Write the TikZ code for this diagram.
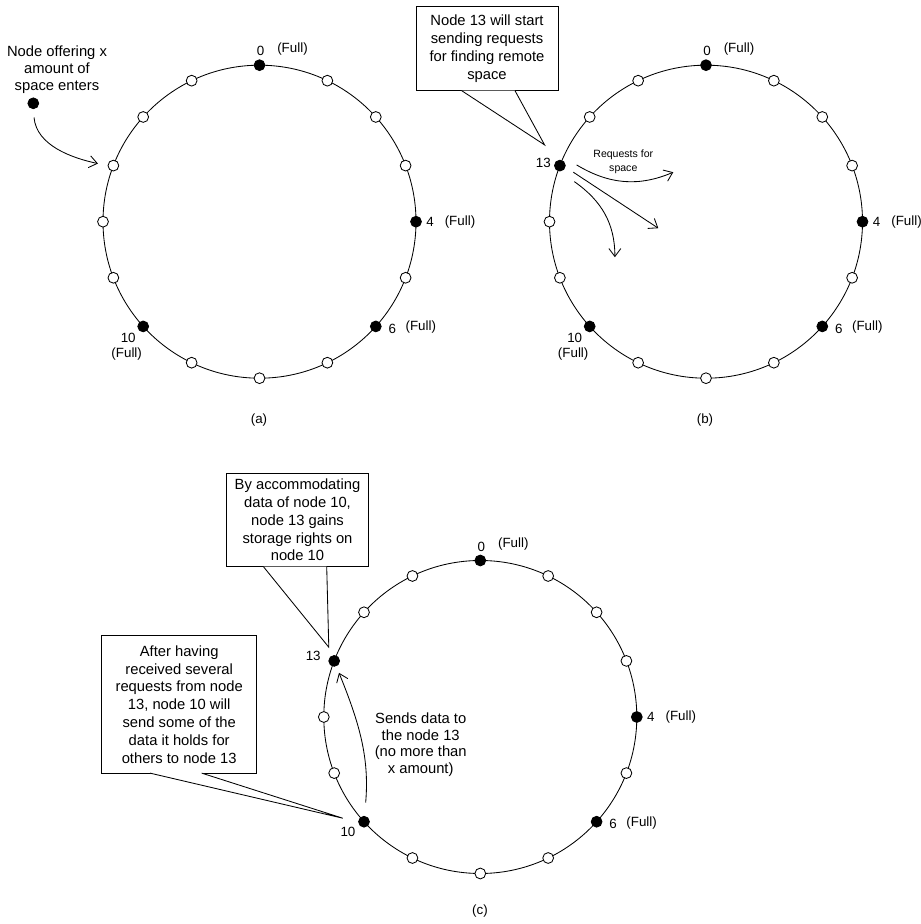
\documentclass[tikz,border=0pt]{standalone}
\usepackage{fontspec}
\setmainfont{Liberation Sans}
\usepackage{tikz}
\usetikzlibrary{positioning,arrows.meta,calc}

% one ring of 16 peers: #1 name prefix, #2 centre, #3 fill of peer 13
\newcommand{\peerring}[3]{%
  \draw[ring] (#2) circle[radius=3.9125cm];
  \foreach \ang/\f [count=\k from 0] in {90/black,64.3/white,42/white,21/white,0/black,-21/white,-42/black,-64.3/white,-90/white,-115.7/white,-138/black,-159/white,180/white,159/#3,138/white,115.7/white}
    \node[peer, fill=\f] (#1\k) at ($(#2)+(\ang:3.9125cm)$) {};
  \node[lbl] at ($(#10)+(1,14)$) {0};
  \node[lbl] at ($(#10)+(33,16)$) {(Full)};
  \node[lbl] at ($(#14)+(14,0)$) {4};
  \node[lbl] at ($(#14)+(44,0)$) {(Full)};
  \node[lbl] at ($(#16)+(16.5,-2.5)$) {6};
  \node[lbl] at ($(#16)+(45,-1)$) {(Full)};
}

\begin{document}
\begin{tikzpicture}[x=0.25mm, y=0.25mm,
    ring/.style={line width=0.6pt},
    peer/.style={circle, draw, line width=0.6pt, minimum size=2.7mm, inner sep=0pt},
    lbl/.style={font=\fontsize{9.5}{11}\selectfont, inner sep=0pt},
    small/.style={font=\fontsize{7.5}{9.5}\selectfont, align=center, inner sep=0pt},
    txt/.style={font=\fontsize{10.5}{12.2}\selectfont, align=center, inner sep=0pt},
    note/.style={draw, fill=white, line width=0.6pt, align=center, inner sep=0pt, font=\fontsize{10.5}{12.7}\selectfont},
    tail/.style={draw, fill=white, line width=0.6pt},
    arr/.style={-{Straight Barb[length=2mm,width=3mm]}, line width=0.6pt}
]
\path[use as bounding box] (0,0) rectangle (921,924);

% ring centres
\coordinate (ca) at (259.5,702.3);
\coordinate (cb) at (706,702.3);
\coordinate (cc) at (480.3,207);

% (a) a new peer joins
\peerring{a}{ca}{white}
\node[lbl] at ($(a10)+(-15,-11.3)$) {10};
\node[lbl] at ($(a10)+(-16.5,-27.3)$) {(Full)};
\node[txt] (newtxt) at (57,854) {Node offering x\\amount of\\space enters};
\node[peer, fill=black] (newnode) at (33.3,820.7) {};
\draw[arr, shorten <=6pt, shorten >=7pt] (newnode.south) to[out=-85, in=168] (a13.west);
\node[lbl] (capa) at (259,504) {(a)};

% (b) peer 13 asks for space
\peerring{b}{cb}{black}
\node[lbl] at ($(b10)+(-15,-11.3)$) {10};
\node[lbl] at ($(b10)+(-16.5,-27.3)$) {(Full)};
\node[lbl] at ($(b13)+(-16.6,2.4)$) {13};
\node[note, minimum width=35.5mm, minimum height=21.2mm] (callb) at (487,875.5) {Node 13 will start\\sending requests\\for finding remote\\space};
\coordinate (tipb) at ($(b13)+(-15.3,20.7)$);
\path[tail] ([shift={(-25.3,0.6)}]callb.south) -- (tipb) -- ([shift={(28,0.6)}]callb.south);
\coordinate (rq1) at ($(b13)+(113.4,-6.6)$);
\coordinate (rq2) at ($(b13)+(98.4,-62.6)$);
\coordinate (rq3) at ($(b13)+(55,-91.6)$);
\draw[arr] ([shift={(16.7,0.7)}]b13.center) to[out=-31, in=203] (rq1);
\draw[arr] ([shift={(13.4,-6.6)}]b13.center) -- (rq2);
\draw[arr] ([shift={(14.4,-16)}]b13.center) to[out=-35, in=90] (rq3);
\node[small] at ($(b13)+(63.4,4)$) {Requests for\\space};
\node[lbl] (capb) at (705,504) {(b)};

% (c) peer 10 hands data to peer 13
\peerring{c}{cc}{black}
\node[lbl] at ($(c10)+(-16,-9.7)$) {10};
\node[lbl] at ($(c13)+(-21,4.7)$) {13};
\node[note, minimum width=35.4mm, minimum height=23.35mm] (callc) at (297.5,404) {By accommodating\\data of node 10,\\node 13 gains\\storage rights on\\node 10};
\coordinate (tipc) at ($(c13)+(-5.4,13.7)$);
\path[tail] ([shift={(-34.2,0.6)}]callc.south) -- (tipc) -- ([shift={(29.2,0.6)}]callc.south);
\node[note, minimum width=38.75mm, minimum height=34.4mm] (sendc) at (179.2,219.5) {After having\\received several\\requests from node\\13, node 10 will\\send some of the\\data it holds for\\others to node 13};
\coordinate (tipd) at ($(c10)+(-21.2,3.5)$);
\path[tail] ([shift={(-29.2,0.6)}]sendc.south) -- (tipd) -- ([shift={(22.5,0.6)}]sendc.south);
\draw[arr, shorten <=9.5pt, shorten >=5pt] (c10) to[out=85, in=-68] (c13);
\node[txt, font=\fontsize{10.5}{11.7}\selectfont] at (420.7,179.3) {Sends data to\\the node 13\\(no more than\\x amount)};
\node[lbl] (capc) at (480,13) {(c)};
\end{tikzpicture}
\end{document}
